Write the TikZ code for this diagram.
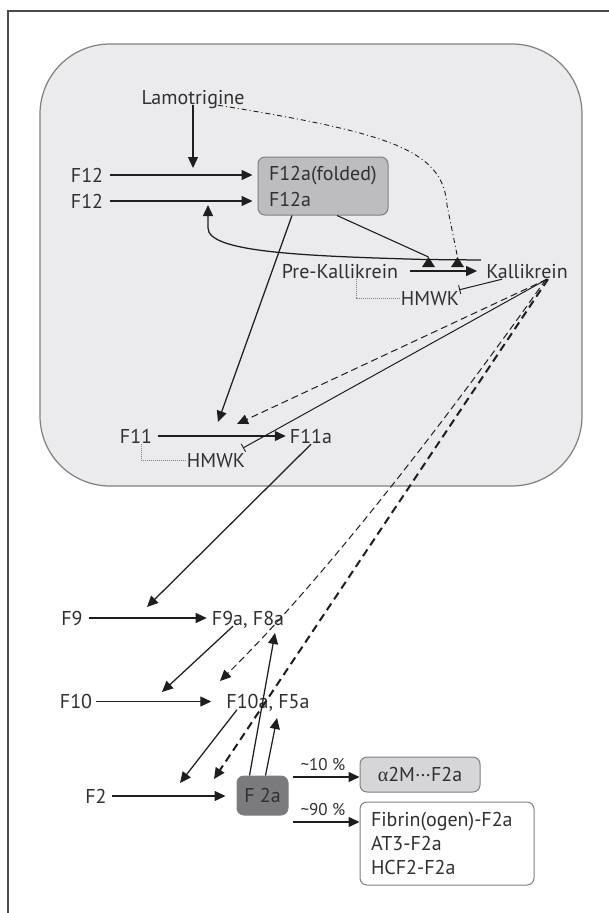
\documentclass[tikz,border=0pt]{standalone}
\usepackage{fontspec}
\setmainfont{PT Sans}
\newfontfamily\grk{Liberation Serif}
\usetikzlibrary{arrows.meta}
\definecolor{txt}{HTML}{303030}
\definecolor{ln}{HTML}{1E1E1E}
\definecolor{panel}{HTML}{EBEBED}
\definecolor{panelborder}{HTML}{808080}
\definecolor{boxA}{HTML}{BDBDBF}
\definecolor{boxB}{HTML}{7B7B7D}
\definecolor{boxC}{HTML}{D6D6D8}
\begin{document}
\begin{tikzpicture}[x=1pt,y=-1pt,
  font=\fontsize{20}{24}\selectfont,
  lbl/.style={inner sep=0pt,text height=15pt,text depth=1pt,text=txt},
  arr/.style={draw=ln,line width=1.25pt,-{Triangle[length=11pt,width=10pt]}},
  inh/.style={draw=ln,line width=1pt,-{Bar[width=9pt,line width=0.9pt]}},
  thind/.style={arr,line width=1pt,dash pattern=on 7pt off 4pt},
  thickd/.style={arr,line width=2pt,dash pattern=on 8pt off 5pt},
  dotl/.style={draw=gray,line width=0.8pt,dash pattern=on 1pt off 1pt},
  ddot/.style={draw=ln,line width=0.9pt,dash pattern=on 5pt off 3pt on 1pt off 3pt},
  rbox/.style={draw=panelborder,line width=1pt,rounded corners=7pt,inner sep=0pt,text=txt},
  pct/.style={font=\fontsize{17}{20}\selectfont,text=txt,inner sep=0pt}
]
\useasboundingbox (0,0) rectangle (609,913);
\fill[white] (0,0) rectangle (609,913);
\draw[draw=ln!80,line width=1.4pt] (8,913) -- (8,11) -- (609,11);
\draw[fill=panel,draw=panelborder,line width=1.2pt,rounded corners=70pt] (40,44) rectangle (582,486);

% nodes
\node[lbl] (Lam) at (193,97) {Lamotrigine};
\node[lbl] (F12a) at (87,175) {F12};
\node[lbl] (F12b) at (87,201) {F12};
\node[rbox,fill=boxA,minimum width=130pt,minimum height=58pt,align=left,text width=108pt,inner xsep=11pt,font=\fontsize{20}{26}\selectfont] (F12box) at (323,186) {F12a(folded)\\F12a};
\node[lbl] (PreK) at (340,271) {Pre-Kallikrein};
\node[lbl] (Kall) at (527,271) {Kallikrein};
\node[lbl] (HM1) at (430,298) {HMWK};
\node[lbl] (F11) at (136,436) {F11};
\node[lbl] (F11a) at (311,436) {F11a};
\node[lbl] (HM2) at (216,460) {HMWK};
\node[lbl] (F9) at (72,618) {F9};
\node[lbl] (F9a) at (248,618) {F9a, F8a};
\node[lbl] (F10) at (76,701.5) {F10};
\node[lbl] (F10a) at (268,701.5) {F10a, F5a};
\node[lbl] (F2) at (96,796) {F2};
\node[rbox,fill=boxB,minimum width=51pt,minimum height=39pt] (F2a) at (262.5,795.5) {F 2a};
\node[rbox,fill=boxC,minimum width=120pt,minimum height=35pt] (A2M) at (420,774.5) {{\grk α}2M···F2a};
\node[rbox,fill=white,minimum width=174pt,minimum height=83pt,align=left,text width=152pt,inner xsep=11pt,font=\fontsize{20}{24}\selectfont] (Big) at (447,843.5) {Fibrin(ogen)-F2a\\AT3-F2a\\HCF2-F2a};

% named free ends
\coordinate (lamT) at (193,168);
\coordinate (barR) at (481,260);
\coordinate (ret) at (208,205);
\coordinate (t1) at (428.5,257);
\coordinate (t2) at (457.5,257);
\coordinate (f11in) at (237,424);
\coordinate (hm2bar) at (243,448);
\coordinate (f10in) at (220,681);
\coordinate (f2in) at (214,779);
\coordinate (f11tip) at (218,422);
\coordinate (f9tip) at (147,607);
\coordinate (f10tip) at (162,692);
\coordinate (f2tip) at (180,783);
\coordinate (f9atip) at (275,633);
\coordinate (f10atip) at (277,718);
\coordinate (p10) at (293,777);
\coordinate (p90) at (293,822);

% connectors
\draw[arr] (Lam.south -| lamT) -- (lamT);
\draw[arr] ([xshift=7pt]F12a.east) -- ([xshift=-5pt]F12box.west |- F12a);
\draw[arr] ([xshift=7pt]F12b.east) -- ([xshift=-5pt]F12box.west |- F12b);
\draw[arr] (barR) -- (425,259.5) .. controls (300,256) and (208,252) .. (208,228) -- (ret);
\draw[draw=ln,line width=1.1pt] ([xshift=14pt]F12box.south) -- (t1);
\draw[ddot] ([xshift=25pt]Lam.south) .. controls (390,133) and (443,150) .. (447,205) -- (t2);
\fill[ln] (t1) -- ++(-6.5,10) -- ++(13,0) -- cycle;
\fill[ln] (t2) -- ++(-6.5,10) -- ++(13,0) -- cycle;
\draw[arr] ([xshift=12pt]PreK.east) -- ([xshift=-9pt]Kall.west);
\draw[dotl] ([xshift=16pt]PreK.south) |- (HM1.west);
\draw[inh] ([xshift=-25pt]Kall.south) -- (HM1.north east);

\draw[thind] ([xshift=20pt]Kall.south) -- (f11in);
\draw[inh] ([xshift=20pt]Kall.south) -- (hm2bar);
\draw[thind] ([xshift=19pt]Kall.south) .. controls (445,422) and (321,582) .. (f10in);
\draw[thickd] ([xshift=21pt]Kall.south) -- (f2in);

\draw[arr] ([xshift=-31pt]F12box.south) -- (f11tip);
\draw[arr] ([xshift=6pt]F11.east) -- ([xshift=-4pt]F11a.west);
\draw[dotl] ([xshift=5pt]F11.south) |- (HM2.west);
\draw[arr] (F11a.south) -- (f9tip);

\draw[arr] ([xshift=6pt]F9.east) -- ([xshift=-5pt]F9a.west);
\draw[arr] ([xshift=-15pt]F9a.south) -- (f10tip);
\draw[arr] ([xshift=4pt]F10.east) -- ([xshift=-15pt]F10a.west);
\draw[arr] ([xshift=-31pt]F10a.south) -- (f2tip);
\draw[arr] ([xshift=5pt]F2.east) -- ([xshift=-11pt]F2a.west |- F2);
\draw[arr] ([xshift=-13pt]F2a.north) -- (f9atip);
\draw[arr] ([xshift=3pt]F2a.north) -- (f10atip);

\draw[arr] (p10) -- (A2M.west |- p10) node[pct,pos=0.45,above=6pt] {\textasciitilde10 \%};
\draw[arr] (p90) -- (Big.west |- p90) node[pct,pos=0.45,above=6pt] {\textasciitilde90 \%};
\end{tikzpicture}
\end{document}
